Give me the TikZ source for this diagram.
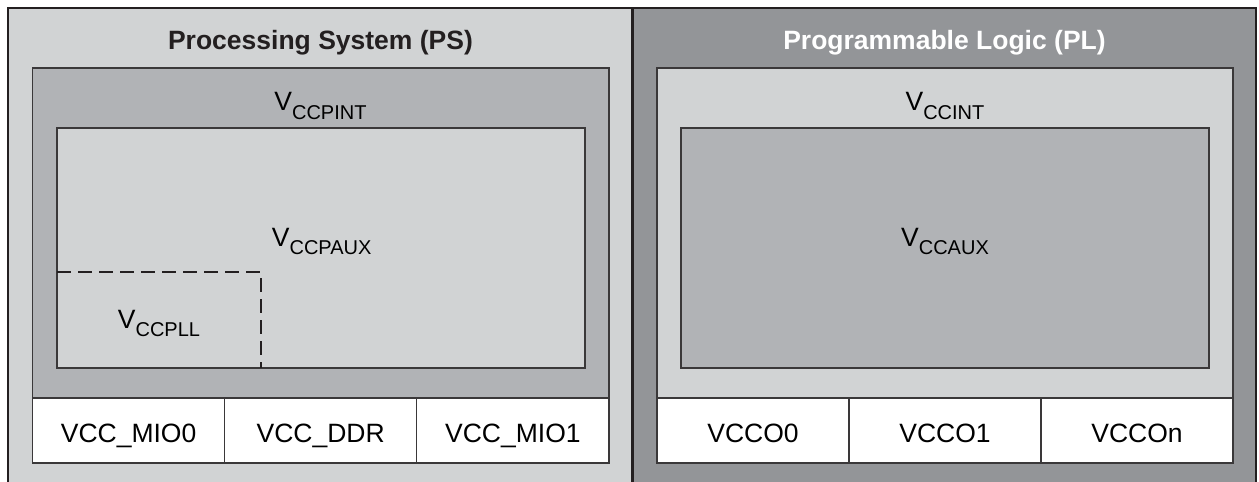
\documentclass[tikz,border=0pt]{standalone}
\usepackage{fontspec}
\setmainfont{Liberation Sans}
\definecolor{lightgrey}{HTML}{D1D3D4}
\definecolor{midgrey}{HTML}{B1B3B6}
\definecolor{darkgrey}{HTML}{939598}
\definecolor{frameline}{HTML}{231F20}
\definecolor{boxline}{HTML}{3A3839}
\newcommand{\railV}[1]{V\raisebox{-8.6pt}{\fontsize{20}{24}\selectfont #1}}
\begin{document}
\begin{tikzpicture}[x=1pt,y=-1pt,
  region/.style={draw=boxline, line width=1.5pt},
  railcell/.style={draw=boxline, line width=1.3pt, fill=white},
  bigtext/.style={anchor=base, inner sep=0pt, font=\fontsize{26.5}{30}\selectfont},
  titletext/.style={bigtext, font=\fontsize{26.5}{30}\selectfont\bfseries},
  pllline/.style={draw=frameline, line width=2pt, dash pattern=on 14pt off 7pt}
]
\useasboundingbox (0,0) rectangle (1259,482);

% two halves of the device
\fill[lightgrey] (8,8) rectangle (632.5,495);
\fill[darkgrey] (632.5,8) rectangle (1256,495);

% ---- Processing System ----
\filldraw[region, fill=midgrey] (32.5,68) rectangle (609,463);
\filldraw[region, fill=lightgrey] (57,128) rectangle (585,368);
\draw[pllline] (57,272) -- (261,272) -- (261,368);
\filldraw[railcell] (32.5,398) rectangle (224.7,463);
\filldraw[railcell] (224.7,398) rectangle (416.8,463);
\filldraw[railcell] (416.8,398) rectangle (609,463);

% ---- Programmable Logic ----
\filldraw[region, fill=lightgrey] (657,68) rectangle (1233,463);
\filldraw[region, fill=midgrey] (681,128) rectangle (1209,368);
\filldraw[railcell] (657,398) rectangle (849,463);
\filldraw[railcell] (849,398) rectangle (1041,463);
\filldraw[railcell] (1041,398) rectangle (1233,463);

% outer frame and divider
\draw[frameline, line width=2.5pt] (8,495) -- (8,8) -- (1256,8) -- (1256,495);
\draw[frameline, line width=3pt] (632.5,8) -- (632.5,495);

% titles
\node[titletext, text=frameline] (pstitle) at (320.5,49.3) {Processing System (PS)};
\node[titletext, text=white] (pltitle) at (944.5,49.3) {Programmable Logic (PL)};

% supply rail names
\node[bigtext] (vccpint) at (320.5,110.7) {\railV{CCPINT}};
\node[bigtext] (vccpaux) at (321.7,246) {\railV{CCPAUX}};
\node[bigtext] (vccpll) at (159,328) {\railV{CCPLL}};
\node[bigtext] (vccint) at (945,110.7) {\railV{CCINT}};
\node[bigtext] (vccaux) at (945,246) {\railV{CCAUX}};

% I/O bank supplies
\node[bigtext] (mio0) at (128.6,442.7) {VCC\_MIO0};
\node[bigtext] (ddr) at (320.7,442.7) {VCC\_DDR};
\node[bigtext] (mio1) at (512.9,442.7) {VCC\_MIO1};
\node[bigtext] (vcco0) at (753,442.7) {VCCO0};
\node[bigtext] (vcco1) at (945,442.7) {VCCO1};
\node[bigtext] (vccon) at (1137,442.7) {VCCOn};
\end{tikzpicture}
\end{document}
